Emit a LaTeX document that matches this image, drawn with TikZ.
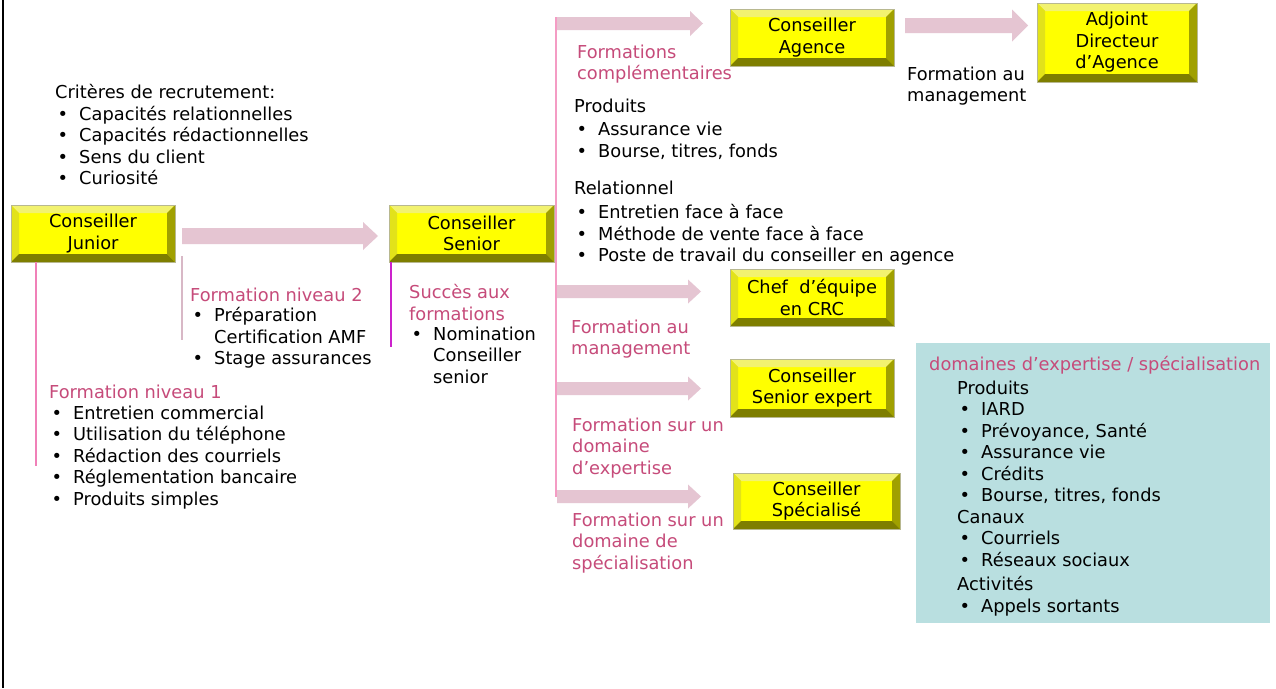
\documentclass[tikz,border=0pt]{standalone}
\usepackage{fontspec}
\setmainfont{DejaVu Sans}

% palette
\definecolor{accent}{HTML}{C64B7A}
\definecolor{arrowfill}{HTML}{E5C5D2}
\definecolor{spinepink}{HTML}{F49CC4}
\definecolor{juniorpink}{HTML}{F080B8}
\definecolor{greypink}{HTML}{D8B8C6}
\definecolor{seniormag}{HTML}{CC22CC}
\definecolor{boxface}{HTML}{FFFF00}
\definecolor{bevtop}{HTML}{F2F270}
\definecolor{bevleft}{HTML}{E2E21A}
\definecolor{bevright}{HTML}{A0A000}
\definecolor{bevbottom}{HTML}{7E7E00}
\definecolor{boxedge}{HTML}{B8B890}
\definecolor{panelbg}{HTML}{B9DFE0}

% bullet and continuation indents for the lists
\newcommand\bul{\hspace*{2.5pt}\makebox[21.5pt][l]{\textbullet}}
\newcommand\cont{\hspace*{24pt}}

% broad arrow: start, end, shaft half-width, head half-width, head length
\newcommand\fatarrow[5]{%
  \fill[arrowfill] ([yshift=#3pt]#1) -- ([xshift=-#5pt,yshift=#3pt]#2)
    -- ([xshift=-#5pt,yshift=#4pt]#2) -- (#2)
    -- ([xshift=-#5pt,yshift=-#4pt]#2) -- ([xshift=-#5pt,yshift=-#3pt]#2)
    -- ([yshift=-#3pt]#1) -- cycle;}

\tikzset{
  basefont/.style={font=\fontsize{17.8}{21.5}\selectfont},
  txt/.style={basefont, anchor=north west, inner sep=0pt, align=left,
    yshift=-2.5pt, execute at begin node=\strut},
  pinktxt/.style={txt, text=accent},
  bevelbox/.style={basefont, rectangle, align=center, inner sep=0pt,
    draw=boxedge, line width=0.5pt, fill=boxface,
    path picture={
      \fill[bevtop] (path picture bounding box.north west)
        -- (path picture bounding box.north east)
        -- ([shift={(-8pt,-8pt)}]path picture bounding box.north east)
        -- ([shift={(8pt,-8pt)}]path picture bounding box.north west) -- cycle;
      \fill[bevleft] (path picture bounding box.north west)
        -- ([shift={(8pt,-8pt)}]path picture bounding box.north west)
        -- ([shift={(8pt,8pt)}]path picture bounding box.south west)
        -- (path picture bounding box.south west) -- cycle;
      \fill[bevright] (path picture bounding box.north east)
        -- ([shift={(-8pt,-8pt)}]path picture bounding box.north east)
        -- ([shift={(-8pt,8pt)}]path picture bounding box.south east)
        -- (path picture bounding box.south east) -- cycle;
      \fill[bevbottom] (path picture bounding box.south west)
        -- ([shift={(8pt,8pt)}]path picture bounding box.south west)
        -- ([shift={(-8pt,8pt)}]path picture bounding box.south east)
        -- (path picture bounding box.south east) -- cycle;
    }},
  rule/.style={line width=1.5pt},
}

\begin{document}
\begin{tikzpicture}[x=1pt,y=-1pt]
\useasboundingbox[fill=white] (0,0) rectangle (1276,688);

% left frame edge
\coordinate (frametop) at (3,0);
\coordinate (framebot) at (3,688);
\draw[line width=2.4pt] (frametop) -- (framebot);

% career boxes
\node[bevelbox, minimum width=164pt, minimum height=57pt] (junior) at (93,233.5) {Conseiller\\Junior};
\node[bevelbox, minimum width=165pt, minimum height=57pt] (senior) at (471.5,233.5) {Conseiller\\Senior};
\node[bevelbox, minimum width=164pt, minimum height=57pt] (agence) at (812,37.5) {Conseiller\\Agence};
\node[bevelbox, minimum width=160pt, minimum height=79pt] (adjoint) at (1117,42.5) {Adjoint\\Directeur\\d’Agence};
\node[bevelbox, minimum width=164pt, minimum height=57pt] (chef) at (812,297.5) {Chef\ \ d’équipe\\en CRC};
\node[bevelbox, minimum width=164pt, minimum height=58pt] (expert) at (812,388) {Conseiller\\Senior expert};
\node[bevelbox, minimum width=167pt, minimum height=56pt] (special) at (816.5,501) {Conseiller\\Spécialisé};

% arrow end points
\coordinate (a1s) at (182,236);   \coordinate (a1e) at (378,236);
\coordinate (a2s) at (557,23.5);  \coordinate (a2e) at (703,23.5);
\coordinate (a3s) at (905,25.5);  \coordinate (a3e) at (1028,25.5);
\coordinate (a4s) at (557,291.5); \coordinate (a4e) at (701,291.5);
\coordinate (a5s) at (557,388.5); \coordinate (a5e) at (701,388.5);
\coordinate (a6s) at (557,496.5); \coordinate (a6e) at (701,496.5);

\fatarrow{a1s}{a1e}{8}{14}{15}
\fatarrow{a2s}{a2e}{6.5}{12.5}{13}
\fatarrow{a3s}{a3e}{7.5}{16}{16}
\fatarrow{a4s}{a4e}{6.5}{12}{13}
\fatarrow{a5s}{a5e}{6.5}{12}{13}
\fatarrow{a6s}{a6e}{6.5}{12}{13}

% branching spine and guide lines
\coordinate (spinetop) at (556,17);
\coordinate (spinebot) at (556,497);
\draw[rule, spinepink] (spinetop) -- (spinebot);
\draw[rule, juniorpink] ([xshift=25pt]junior.south west) -- ++(0,204);
\coordinate (guidetop) at (182,256);
\coordinate (guidebot) at (182,340);
\draw[rule, greypink] (guidetop) -- (guidebot);
\draw[rule, seniormag] ([xshift=2pt]senior.south west) -- ++(0,85);

% recruitment criteria
\node[txt] (criteres) at (55,82) {Critères de recrutement:\\
  \bul Capacités relationnelles\\
  \bul Capacités rédactionnelles\\
  \bul Sens du client\\
  \bul Curiosité};

% level 1 training
\node[pinktxt] (n1head) at (49,381) {Formation niveau 1};
\node[txt] (n1list) at (49,403) {\bul Entretien commercial\\
  \bul Utilisation du téléphone\\
  \bul Rédaction des courriels\\
  \bul Réglementation bancaire\\
  \bul Produits simples};

% level 2 training
\node[pinktxt] (n2head) at (190,284) {Formation niveau 2};
\node[txt] (n2list) at (190,305) {\bul Préparation\\
  \cont Certification AMF\\
  \bul Stage assurances};

% senior promotion
\node[pinktxt] (succes) at (409,282) {Succès aux\\formations};
\node[txt] (nomination) at (409,324) {\bul Nomination\\
  \cont Conseiller\\
  \cont senior};

% complementary training
\node[pinktxt] (complem) at (577,42) {Formations\\complémentaires};
\node[txt] (produits) at (574,96) {Produits\\[2pt]
  \bul Assurance vie\\
  \bul Bourse, titres, fonds};
\node[txt] (relation) at (574,178) {Relationnel\\[3pt]
  \bul Entretien face à face\\
  \bul Méthode de vente face à face\\
  \bul Poste de travail du conseiller en agence};

\node[txt] (mgmttop) at (907,64) {Formation au\\management};
\node[pinktxt] (mgmt) at (571,317) {Formation au\\management};
\node[pinktxt] (expertise) at (572,415) {Formation sur un\\domaine\\d’expertise};
\node[pinktxt] (specialis) at (572,510) {Formation sur un\\domaine de\\spécialisation};

% domains panel
\node[anchor=north west, fill=panelbg, inner sep=0pt,
      minimum width=354pt, minimum height=280pt] (panel) at (916,343) {};
\node[pinktxt] (paneltitle) at (929,353) {domaines d’expertise / spécialisation};
\node[txt] (panellist) at (957,378) {Produits\\
  \bul IARD\\
  \bul Prévoyance, Santé\\
  \bul Assurance vie\\
  \bul Crédits\\
  \bul Bourse, titres, fonds\\
  Canaux\\
  \bul Courriels\\
  \bul Réseaux sociaux\\[3pt]
  Activités\\
  \bul Appels sortants};
\end{tikzpicture}
\end{document}
